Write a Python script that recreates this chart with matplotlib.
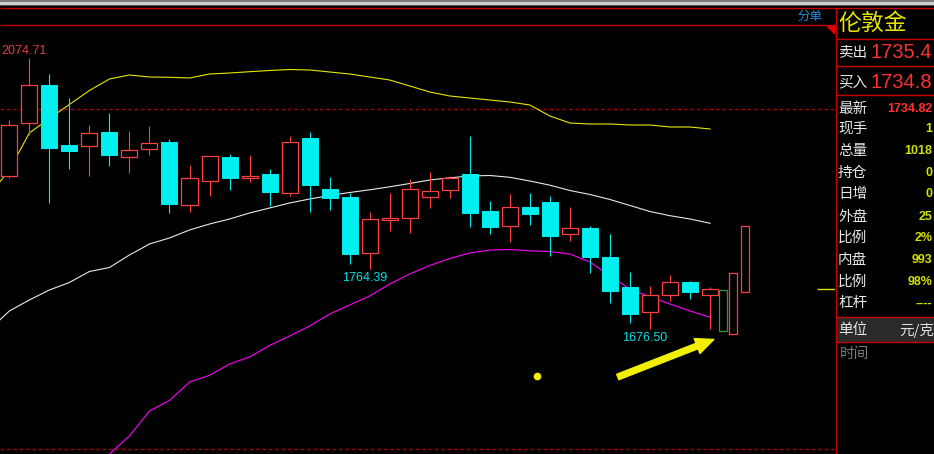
import matplotlib
matplotlib.use("Agg")
import matplotlib.pyplot as plt
from matplotlib.patches import Rectangle, Polygon
import numpy as np

plt.rcParams['font.family'] = ['Noto Sans CJK SC', 'DejaVu Sans']

# daily candles (London gold)
opens = [1902.05, 1980.00, 2035.44, 1947.20, 1946.17, 1966.32, 1929.99, 1940.87, 1951.61, 1858.52,
         1893.81, 1929.55, 1898.22, 1904.55, 1876.16, 1957.49, 1882.49, 1870.72, 1788.80, 1837.34,
         1840.28, 1871.16, 1881.46, 1904.55, 1850.13, 1828.51, 1856.02, 1863.37, 1816.75, 1825.13,
         1782.48, 1738.36, 1702.03, 1727.03, 1745.71, 1727.03]
highs = [1983.97, 2074.71, 2051.62, 2015.88, 1976.61, 1994.26, 1967.79, 1975.14, 1956.02, 1917.78,
         1931.50, 1933.96, 1932.49, 1911.90, 1960.43, 1966.32, 1900.14, 1876.16, 1848.66, 1876.60,
         1896.75, 1907.49, 1901.61, 1960.43, 1864.84, 1875.13, 1876.60, 1872.19, 1856.02, 1828.07,
         1816.31, 1760.42, 1739.83, 1756.01, 1747.62, 1738.36]
lows = [1899.11, 1961.91, 1862.34, 1911.46, 1902.05, 1916.76, 1906.46, 1932.93, 1847.63, 1849.10,
        1872.63, 1881.46, 1893.22, 1857.93, 1872.63, 1849.10, 1852.04, 1772.63, 1764.39, 1821.16,
        1818.22, 1854.99, 1869.69, 1827.04, 1816.75, 1804.98, 1829.98, 1784.39, 1806.45, 1759.39,
        1715.27, 1685.85, 1676.50, 1718.21, 1721.15, 1677.20]
closes = [1976.17, 2035.44, 1943.23, 1938.82, 1964.41, 1932.93, 1939.84, 1949.70, 1860.87, 1898.22,
          1930.58, 1899.11, 1901.17, 1878.52, 1951.17, 1888.81, 1869.69, 1787.33, 1837.93, 1839.84,
          1882.05, 1879.11, 1899.11, 1847.63, 1827.04, 1855.57, 1846.16, 1813.81, 1824.69, 1782.92,
          1732.92, 1699.09, 1726.15, 1745.27, 1731.45, 1734.82]

# bands, index -1 .. 35
band_idx = list(range(-1, 36))
upper = [1873.66, 1910.43, 1964.85, 1986.17, 2006.76, 2027.35, 2044.26, 2050.15, 2047.21, 2046.77,
         2045.74, 2051.62, 2053.09, 2055.00, 2056.77, 2058.24, 2057.50, 2054.56, 2051.62, 2047.21,
         2042.79, 2033.97, 2025.15, 2019.26, 2016.32, 2013.38, 2010.44, 2006.03, 1989.85, 1979.55,
         1978.08, 1978.08, 1976.61, 1976.61, 1973.67, 1973.67, 1970.73]
middle = [1675.12, 1703.06, 1719.24, 1733.95, 1744.98, 1761.15, 1767.04, 1785.42, 1801.60, 1810.42,
          1822.19, 1831.01, 1838.37, 1847.19, 1854.54, 1861.90, 1867.78, 1872.93, 1877.34, 1881.31,
          1885.72, 1890.58, 1895.72, 1898.96, 1901.61, 1902.34, 1899.70, 1894.25, 1888.08, 1880.28,
          1874.40, 1867.05, 1858.22, 1849.40, 1843.22, 1838.37, 1832.04]
lower = [np.nan, np.nan, np.nan, np.nan, np.nan, 1466.28, 1492.75, 1519.22, 1555.99, 1571.43,
         1598.64, 1608.50, 1625.12, 1635.41, 1652.32, 1666.29, 1681.00, 1698.65, 1711.89, 1725.12,
         1742.77, 1757.48, 1769.98, 1780.27, 1788.36, 1792.77, 1793.51, 1791.60, 1790.57, 1786.89,
         1775.13, 1754.54, 1735.42, 1723.65, 1713.36, 1703.06, 1693.80]

# hand drawn boxes at the right end
mark_pos = [35.66, 36.14, 36.74]
mark_low = [1674.09, 1669.68, 1731.45]
mark_high = [1733.94, 1758.95, 1828.07]
mark_colors = ['#2f9a2f', '#ff4040', '#ff4040']

ref_lines = [2000, 1500]
last_price = 1734.82
dot = (26.34, 1607.47)
arrow_from = (30.39, 1606.0)
arrow_to = (35.19, 1661.2)

panel_labels = ['最新', '现手', '总量', '持仓', '日增', '外盘', '比例', '内盘', '比例', '杠杆']
panel_values = ['1734.82', '1', '1018', '0', '0', '25', '2%', '993', '98%', '----']
sell_price = '1735.4'
buy_price = '1734.8'

UP = '#ff4040'
DOWN = '#00f0f0'

fig = plt.figure(figsize=(9.34, 4.54), dpi=100, facecolor='black')
ax = fig.add_axes([0, 0, 835 / 934, 1])
ax.set_facecolor('black')
ax.set_xlim(-0.465, 41.24)
ax.set_ylim(1492.75, 2160.45)
ax.set_axis_off()

x = np.arange(len(opens))
o = np.array(opens); c = np.array(closes); h = np.array(highs); l = np.array(lows)
up = c >= o
top = np.maximum(o, c); bot = np.minimum(o, c)

for yv in ref_lines:
    ax.axhline(yv, color='#b00000', lw=1, ls=(0, (2.4, 2.2)), zorder=1)

ax.plot(band_idx, upper, color='#e6e600', lw=0.8, zorder=2)
ax.plot(band_idx, middle, color='#e8e8e8', lw=0.8, zorder=2)
ax.plot(band_idx, lower, color='#ff00ff', lw=0.8, zorder=2)

# wicks
ax.vlines(x[~up], l[~up], h[~up], color=DOWN, lw=0.8, zorder=3)
ax.vlines(x[up], l[up], bot[up], color=UP, lw=0.8, zorder=3)
ax.vlines(x[up], top[up], h[up], color=UP, lw=0.8, zorder=3)
# bodies
ax.bar(x[~up], (top - bot)[~up], bottom=bot[~up], width=0.8, color=DOWN,
       edgecolor=DOWN, lw=0.7, zorder=4)
ax.bar(x[up], (top - bot)[up], bottom=bot[up], width=0.8, color='black',
       edgecolor=UP, lw=0.9, zorder=4)

mp = np.array(mark_pos); ml = np.array(mark_low); mh = np.array(mark_high)
ax.bar(mp, mh - ml, bottom=ml, width=0.4, color='black', edgecolor=mark_colors, lw=0.9, zorder=4)

# extreme labels
i_hi = int(np.argmax(h))
ax.annotate(f'{highs[i_hi]:.2f}', (i_hi, highs[i_hi]), xytext=(-5, 7), textcoords='offset pixels',
            ha='center', va='center', color='#e04040', fontsize=9, family='Liberation Sans')
for i in [18, 32]:
    ax.annotate(f'{lows[i]:.2f}', (i, lows[i]), xytext=(-5, -9), textcoords='offset pixels',
                ha='center', va='center', color='#00e0e0', fontsize=9, family='Liberation Sans')

ax.plot(*dot, 'o', color='#f0f000', ms=4.5, zorder=6)
ax.annotate('', xy=arrow_to, xytext=arrow_from,
            arrowprops=dict(arrowstyle='simple,head_length=1.3,head_width=1.15,tail_width=0.42',
                            color='#f0f000', mutation_scale=10, shrinkA=0, shrinkB=0), zorder=6)
ax.hlines(last_price, 40.35, 41.24, color='#e0e000', lw=1)

# overlay: terminal header and quote panel, pixel coordinates
ov = fig.add_axes([0, 0, 1, 1], zorder=5)
ov.set_xlim(0, 934)
ov.set_ylim(454, 0)
ov.set_axis_off()
ov.patch.set_alpha(0)

ov.add_patch(Rectangle((0, 0), 934, 2, color='#7a7a7a', lw=0))
ov.add_patch(Rectangle((0, 2), 934, 2.5, color='#cfcfcf', lw=0))
ov.add_patch(Rectangle((0, 4.5), 934, 1.5, color='#555555', lw=0))
ov.add_patch(Rectangle((836, 317), 98, 25, color='#2a2a2a', lw=0))
red = '#c80000'
ov.hlines(8.3, 0, 934, color=red, lw=1)
ov.hlines(25.3, 0, 836, color=red, lw=1)
ov.vlines(835.7, 8.3, 454, color=red, lw=1)
ov.hlines([38.7, 66, 95.3, 316.7, 342.3], 836, 934, color=red, lw=1)
ov.add_patch(Polygon([(826, 26), (835, 26), (835, 35)], closed=True, color='#e00000', lw=0))
ov.text(797, 16, '分单', color='#2090e0', fontsize=9, va='center', ha='left')

ov.text(838, 23, '伦敦金', color='#e6e600', fontsize=16.5, va='center', ha='left')
ov.text(838, 53, '卖出', color='#e8e8e8', fontsize=10.5, va='center', ha='left')
ov.text(932.5, 53, sell_price, color='#ff3030', fontsize=14.5, va='center', ha='right',
        family='Liberation Sans')
ov.text(838, 82, '买入', color='#e8e8e8', fontsize=10.5, va='center', ha='left')
ov.text(932.5, 82, buy_price, color='#ff3030', fontsize=14.5, va='center', ha='right',
        family='Liberation Sans')

row_y = [108.5, 129, 151, 172.7, 194, 216.5, 238, 260, 282, 303.5]
for k, (lab, val) in enumerate(zip(panel_labels, panel_values)):
    ov.text(838, row_y[k], lab, color='#e8e8e8', fontsize=10.5, va='center', ha='left')
    col = '#ff3030' if k == 0 else '#d2e000'
    ov.text(932.5, row_y[k], val, color=col, fontsize=9, fontweight='bold', va='center',
            ha='right', family='Liberation Sans')

ov.text(838, 330, '单位', color='#e8e8e8', fontsize=10.5, va='center', ha='left')
ov.text(899, 330, '元/克', color='#e0e0e0', fontsize=10.5, va='center', ha='left')
ov.text(840, 354, '时间', color='#7a7a7a', fontsize=10.5, va='center', ha='left')

fig.savefig('out.png', dpi=100, facecolor='black')
